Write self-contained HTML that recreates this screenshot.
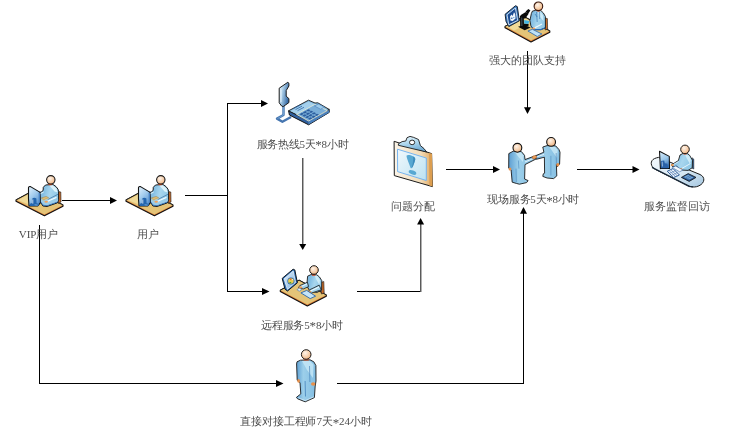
<!DOCTYPE html>
<html><head><meta charset="utf-8">
<style>
html,body{margin:0;padding:0;background:#fff;width:740px;height:427px;overflow:hidden}
svg{position:absolute;left:0;top:0}
text{font-family:"Liberation Serif",serif;font-size:11px;fill:#4a4a4a}
#labels{opacity:0.99;will-change:transform}
</style></head><body>
<svg width="740" height="427" viewBox="0 0 740 427">
<g id="iconA">
<defs><radialGradient id="gHead" cx="0.4" cy="0.35" r="0.75"><stop offset="0" stop-color="#fff4ea"/><stop offset="0.65" stop-color="#f4c8a0"/><stop offset="1" stop-color="#e09058"/></radialGradient>
<linearGradient id="gMon" x1="0" y1="0" x2="1" y2="1"><stop offset="0" stop-color="#d8ecfa"/><stop offset="1" stop-color="#6aa4d8"/></linearGradient>
<linearGradient id="gTorso" x1="0" y1="0" x2="1" y2="0.3"><stop offset="0" stop-color="#7ab4de"/><stop offset="0.3" stop-color="#86c0e4"/><stop offset="0.6" stop-color="#a8d6ee"/><stop offset="1" stop-color="#90c8e6"/></linearGradient></defs>
<!-- desk -->
<polygon points="16.0,200.0 34.5,190.0 63.0,205.0 63.0,206.3 44.4,215.7 16.0,201.3" fill="#e07a30" stroke="#111" stroke-width="1.15" stroke-linejoin="round"/>
<polygon points="16.0,200.0 34.5,190.0 63.0,205.0 44.4,214.4" fill="#e4c478"/>
<polyline points="16.0,200.0 34.5,190.0 63.0,205.0" fill="none" stroke="#1a1a1a" stroke-width="0.9" stroke-linejoin="round"/>
<polygon points="18,200.3 34.5,191.3 45,196.8 30,204.8" fill="#f0da98"/>
<!-- chair back -->
<polygon points="58,191.5 60.8,192 61,202 58.3,203.5" fill="#c86a28" stroke="#1a1a1a" stroke-width="0.6"/>
<!-- person torso -->
<path d="M45.5,185 L52.8,184.4 L56,186.6 L58,189.2 L58.6,191.5 L58.6,199.8 L57.3,202.9 L47,206.5 L42.9,206 L40.3,201.9 L39.6,192.6 L41.4,191.8 L43.1,190.6 L43.3,187.3 Z" fill="url(#gTorso)" stroke="#1a1a1a" stroke-width="1" stroke-linejoin="round"/>
<path d="M49.5,185.6 L53,185.4 L56.5,188.6 L57.6,192.5 L54.5,191.5 Z" fill="#e0f4fb" opacity="0.95"/>
<path d="M40.4,193.6 L43.6,192.2" stroke="#f2fafe" stroke-width="0.9"/>
<path d="M40.8,200.5 L43.5,204.4 L47,205.2 L57.6,201.4 L57.2,202.6 L47,206 L43,205.6 L40.6,202 Z" fill="#2a6ab4"/>
<path d="M41,199.5 L47,203.5 L58,199.6 L58,201.2 L47,205 L43,204.5 L40.8,201.5 Z" fill="#9ccce8"/>
<path d="M58.2,194.2 L47.6,199.6" stroke="#2a5a90" stroke-width="0.6"/>
<!-- arm highlight -->
<path d="M56.3,196.8 L47,201 L47.2,202 L56.6,198 Z" fill="#f2fafe"/>
<!-- keyboard -->
<polygon points="41.2,198 46.2,196.4 48.8,197.9 43.6,200" fill="#e0bc70" stroke="#8a6a30" stroke-width="0.4"/>
<path d="M41.6,199.2 L43.6,200.4 L48.6,198.4" stroke="#f0dca0" stroke-width="0.5" fill="none"/>
<!-- hand -->
<ellipse cx="46.2" cy="201.8" rx="1.8" ry="1" fill="#f0a060"/>
<!-- neck -->
<path d="M48.3,184 L52,184 L51.6,185.2 L48.8,185.2 Z" fill="#e04818"/>
<!-- head -->
<circle cx="50.8" cy="179.8" r="4.2" fill="url(#gHead)" stroke="#1a1a1a" stroke-width="1.1"/>
<!-- monitor -->
<defs><linearGradient id="gMonA" x1="0" y1="0" x2="0.6" y2="1"><stop offset="0" stop-color="#e4f2fc"/><stop offset="0.5" stop-color="#a4cdee"/><stop offset="1" stop-color="#5a94d0"/></linearGradient></defs>
<path d="M28.5,187.6 Q28.8,186.2 30.5,186.6 L39.8,192.1 L40.3,202.9 L37.7,206 L29,206 L28.5,198.8 Z" fill="url(#gMonA)" stroke="#111" stroke-width="1.1" stroke-linejoin="round"/>
<path d="M38.6,192.6 L40,193.2 L40.2,202.6 L38.8,202.2 Z" fill="#4a84c4"/>
<!-- stand -->
<path d="M32,199 Q34,196.6 36.4,198.6 L36.6,203.2 L39.4,204 L38,205.9 L30,205.9 L29.4,204 L32,203 Z" fill="#2466ae"/>
<path d="M32.8,199.4 L32.8,203.6" stroke="#e8f4ff" stroke-width="0.8"/>
<path d="M34.6,204.8 L37.6,205.1" stroke="#a8cdec" stroke-width="0.6"/>
</g>
<use href="#iconA" transform="translate(110,0)"/>
<g id="iconB">
<!-- desk -->
<polygon points="505.0,26.4 524.0,16.6 549.8,31.0 549.8,32.3 531.0,41.9 505.0,27.7" fill="#e07a30" stroke="#111" stroke-width="1.15" stroke-linejoin="round"/>
<polygon points="505.0,26.4 524.0,16.6 549.8,31.0 531.0,40.6" fill="#e4c478"/>
<polyline points="505.0,26.4 524.0,16.6 549.8,31.0" fill="none" stroke="#1a1a1a" stroke-width="0.9" stroke-linejoin="round"/>
<polygon points="507,26.4 524,17.6 532,22.1 514,30.6" fill="#f0da98"/>
<!-- chair back -->
<polygon points="545,18 547.4,18.6 547.6,29 545.2,30" fill="#c86a28" stroke="#1a1a1a" stroke-width="0.6"/>
<!-- torso -->
<path d="M532.5,11 L535.6,10.4 L540.7,10.4 L543.3,12.9 L545.4,16.5 L545.4,27.8 L541,29.6 L534,29.6 L530.9,25.8 L529.9,20.6 L531.4,13.4 Z" fill="url(#gTorso)" stroke="#1a1a1a" stroke-width="0.9" stroke-linejoin="round"/>
<path d="M538,12.2 L541,12.5 L543,15.5 L543.5,21 L540,17 Z" fill="#d4eef8" opacity="0.9"/>
<path d="M536.6,11.8 L537.2,22 M539.6,11.8 L539.7,19 M535,14 L537.2,17" stroke="#2a6aa8" stroke-width="0.6" fill="none"/>
<path d="M531,26 L534,29 L541,29 L545,27.2 L545,28.2 L541,30.2 L534,30.2 L530.6,26.8 Z" fill="#2a6ab4"/>
<path d="M541.8,23.4 L534,27.6 L534.2,28.8 L542.2,24.6 Z" fill="#f2fafe"/>
<ellipse cx="533.8" cy="28.6" rx="1.6" ry="1" fill="#f0a060"/>
<!-- neck -->
<path d="M536.4,10.4 L540.4,10.4 L539.8,11.6 L537,11.6 Z" fill="#e04818"/>
<!-- head -->
<circle cx="538.4" cy="6.3" r="4.3" fill="url(#gHead)" stroke="#3a1a10" stroke-width="1.1"/>
<!-- paper -->
<polygon points="527.9,31 532.4,29.3 541.9,34 537.3,36.5" fill="#bfe2f6" stroke="#2a64a8" stroke-width="0.8"/>
<!-- microscope -->
<polygon points="518,26.8 523.7,25 530.6,27.4 524.7,30.2" fill="#0a0a0a"/>
<polygon points="520,15.8 523.8,16.4 524,28 520.2,27.6" fill="#0a0a0a"/>
<path d="M521.8,17.5 L521.9,26" stroke="#5a7a90" stroke-width="0.7"/>
<polygon points="520.4,15.2 525.8,12 528.6,13.8 525.4,18.4 523,18.4" fill="#0a0a0a"/>
<polygon points="525.6,11.4 528.4,9 530.4,10.6 527.8,14.2" fill="#0a0a0a"/>
<polygon points="523.8,23.4 528.6,24 528.4,26.4 523.8,26" fill="#0a0a0a"/>
<polygon points="524.2,20 529.4,21 528.4,24 524.2,23.6" fill="#40b4e4"/>
<!-- monitor -->
<polygon points="505.1,14.3 515.5,5.7 517.3,6.6 519.4,20.8 508.8,26.6 506,21.3" fill="#3a78bc" stroke="#0c1420" stroke-width="0.9" stroke-linejoin="round"/>
<polygon points="507,14.8 515.4,8 517.6,20.4 508.8,24.8" fill="#1c4c92" stroke="#eef6fc" stroke-width="0.8"/>
<path d="M510,16.5 L511.5,14.5 L512.6,16 L514,12.2 L515.2,14 L515.6,18.6 L512.6,21 L510.4,20.6 Z" fill="#f0f6fc"/>
<circle cx="511.8" cy="18.2" r="0.8" fill="#2a5aa0"/>
<circle cx="513.8" cy="17.6" r="0.7" fill="#4a9ad8"/>
</g>
<g id="iconC">
<defs><linearGradient id="gHs" x1="0" y1="0" x2="1" y2="0.4"><stop offset="0" stop-color="#f0f8fe"/><stop offset="0.4" stop-color="#b0d2ea"/><stop offset="1" stop-color="#3a6ea8"/></linearGradient></defs>
<!-- cord -->
<path d="M283.5,105 L283.5,115 L277,118.6 L282.4,121.8 L291,117" fill="none" stroke="#4676b0" stroke-width="2.4" stroke-linejoin="round"/>
<path d="M283.5,106 L283.5,115 L277.5,118.6" fill="none" stroke="#8abce4" stroke-width="0.6"/>
<!-- handset -->
<path d="M279.2,88.2 L287.8,82.3 L288.9,83.2 L288.9,86 L286.2,90.6 L286.2,96.2 L288.9,98.6 L288.9,102.6 L283.2,106.6 L281.6,106 L279.2,102.8 Z" fill="url(#gHs)" stroke="#1a1a1a" stroke-width="1" stroke-linejoin="round"/>
<path d="M281,89.5 L281,102" stroke="#f4faff" stroke-width="0.8"/>
<!-- base sides -->
<polygon points="288.6,110.8 308.6,120.6 329.2,109.4 329.2,112.4 308.6,124.8 289.4,115" fill="#30609e" stroke="#111" stroke-width="1" stroke-linejoin="round"/>
<polygon points="308.6,120.6 329.2,109.4 329.2,112.4 308.6,124.4" fill="#4a80bc"/>
<!-- top face -->
<polygon points="288.6,110.8 308.5,100.2 315,103 317.8,102.8 329.2,109.4 308.6,120.6" fill="#7eb6dc" stroke="#1a1a1a" stroke-width="0.9" stroke-linejoin="round"/>
<polygon points="290.5,111 308.5,101.5 314.5,104.2 296.5,114" fill="#a4d0ec"/>
<!-- keypad region -->
<polygon points="296.5,114.4 314.8,104.4 327.4,110.6 308.6,121" fill="#7aaed8" stroke="#f0f2dc" stroke-width="0.8"/>
<g fill="#2c5e9e">
<polygon points="299.5,114.2 302,112.8 304,113.8 301.5,115.2"/>
<polygon points="302.8,112.4 305.3,111 307.3,112 304.8,113.4"/>
<polygon points="306.1,110.6 308.6,109.2 310.6,110.2 308.1,111.6"/>
<polygon points="302.3,115.7 304.8,114.3 306.8,115.3 304.3,116.7"/>
<polygon points="305.6,113.9 308.1,112.5 310.1,113.5 307.6,114.9"/>
<polygon points="308.9,112.1 311.4,110.7 313.4,111.7 310.9,113.1"/>
<polygon points="305.1,117.2 307.6,115.8 309.6,116.8 307.1,118.2"/>
<polygon points="308.4,115.4 310.9,114 312.9,115 310.4,116.4"/>
<polygon points="311.7,113.6 314.2,112.2 316.2,113.2 313.7,114.6"/>
<polygon points="307.9,118.7 310.4,117.3 312.4,118.3 309.9,119.7"/>
<polygon points="311.2,116.9 313.7,115.5 315.7,116.5 313.2,117.9"/>
<polygon points="314.5,115.1 317,113.7 319,114.7 316.5,116.1"/>
</g>
<!-- speaker lines -->
<g stroke="#3468a8" stroke-width="0.8">
<line x1="295.5" y1="109.6" x2="302" y2="106.2"/><line x1="297.5" y1="110.7" x2="304" y2="107.3"/><line x1="293.5" y1="108.5" x2="300" y2="105.1"/>
</g>
<!-- display -->
<polygon points="314.5,106 318.5,104 324.5,107.2 320.5,109.2" fill="#9ccaea" stroke="#4a7eb8" stroke-width="0.6"/>
</g>
<g id="iconD">
<defs>
<linearGradient id="gBoard" x1="0" y1="0" x2="1" y2="0"><stop offset="0" stop-color="#fbf4e8"/><stop offset="0.7" stop-color="#f2dcb8"/><stop offset="1" stop-color="#e0a860"/></linearGradient>
<linearGradient id="gPaper" x1="0" y1="0" x2="1" y2="1"><stop offset="0" stop-color="#f0f8fc"/><stop offset="1" stop-color="#bce2f2"/></linearGradient>
<linearGradient id="gClip" x1="0.2" y1="0" x2="0.5" y2="1"><stop offset="0" stop-color="#e4f4fc"/><stop offset="0.5" stop-color="#a8d4ec"/><stop offset="1" stop-color="#6aa6d0"/></linearGradient>
</defs>
<!-- board -->
<polygon points="394.1,141.3 431.6,153.6 432.4,186.6 394.3,175.6" fill="url(#gBoard)" stroke="#1a1a1a" stroke-width="1"/>
<polygon points="429,153 432,153.8 432.6,186.5 429.4,185.5" fill="#dc9e50"/>
<!-- paper -->
<polygon points="397.5,149.2 426.3,158 426.3,180.5 397.6,171.6" fill="url(#gPaper)" stroke="#6aaef0" stroke-width="0.9"/>
<!-- exclamation -->
<path d="M406.6,155.6 C407.4,154.6 410.5,155 413,156.2 C415.2,157.2 415.6,158.6 415.2,160 C414.4,162.8 413.2,166 412.4,167.6 C411.8,168.6 410.8,168.4 410.4,167.4 C409.2,164.2 407.6,160.2 406.8,157.6 C406.6,156.8 406.5,156.1 406.6,155.6 Z" fill="#58a8d2"/>
<path d="M413,156.4 C415,157.3 415.5,158.6 415.1,160 C414.4,162.6 413.3,165.6 412.5,167.4 L412,166.5 C412.8,163.5 413.6,159.5 413,156.4 Z" fill="#3e8cbc"/>
<ellipse cx="412.5" cy="172.4" rx="4" ry="2" transform="rotate(22 412.5 172.4)" fill="#58a8d2"/>
<!-- clip -->
<path d="M398.4,143.8 L402.1,141.6 L405.8,141 L407,137.7 L410,136.4 L413.7,137.4 L418.5,139.5 L420.4,145.6 L424,148.6 L426.6,152 L398.4,145.3 Z" fill="url(#gClip)" stroke="#1a1a1a" stroke-width="0.9" stroke-linejoin="round"/>
<ellipse cx="412.1" cy="142.4" rx="2.6" ry="2.3" fill="#fff" stroke="#1a1a1a" stroke-width="0.9"/>
</g>
<g id="iconE">
<defs>
<linearGradient id="gBody" x1="0" y1="0" x2="1" y2="0"><stop offset="0" stop-color="#5c9ed2"/><stop offset="0.35" stop-color="#9ccfea"/><stop offset="1" stop-color="#82bde2"/></linearGradient>
</defs>
<!-- right person -->
<path d="M542.8,147 L547.1,145.6 L555.7,145.9 L558.9,149.4 L560,152.2 L559.6,164 L557.5,166.6 L556.4,164.5 L556.8,175.9 L553.6,178.6 L547.1,178 L542.8,176.4 L543.3,173.8 L544.6,173.2 L544.4,157.2 L536.3,159.3 L535,156 L543.9,152.2 Z" fill="url(#gBody)" stroke="#1a1a1a" stroke-width="0.9" stroke-linejoin="round"/>
<path d="M543.9,154.4 L536,157.2" stroke="#eaf6fc" stroke-width="1"/>
<path d="M549,146.5 L555,146.8 L557.8,150 L557,158 L552.5,151.5 Z" fill="#c8e8f6" opacity="0.85"/>
<path d="M550.9,155.8 L550.9,175.5" stroke="#4a86bc" stroke-width="0.6"/>
<path d="M556.2,153 L556.4,164" stroke="#3a6ea8" stroke-width="0.5"/>
<ellipse cx="557.8" cy="164.8" rx="1.5" ry="1.7" fill="#e8904a"/>
<circle cx="551.1" cy="141.9" r="4.4" fill="url(#gHead)" stroke="#111" stroke-width="1.1"/>
<!-- left person -->
<path d="M508.8,153.6 L513.2,151.2 L521.4,151.6 L524.5,155.3 L525,159.6 L533.8,156.3 L536,159 L525,164.6 L524.6,179 L528.1,180.6 L526.6,182.6 L519.4,184.2 L516.3,183.4 L512.2,182.2 L511.1,170 L508.7,168.2 Z" fill="url(#gBody)" stroke="#1a1a1a" stroke-width="0.9" stroke-linejoin="round"/>
<path d="M525,162 L535,157.8" stroke="#eaf6fc" stroke-width="1"/>
<path d="M515,152.2 L521,152.4 L523.5,155.5 L523,162 L518.5,157 Z" fill="#c8e8f6" opacity="0.85"/>
<path d="M518.4,160.5 L518.9,168.6 M516,168.6 L516.3,182.2" stroke="#4a86bc" stroke-width="0.6"/>
<ellipse cx="510" cy="168.9" rx="1.4" ry="1.5" fill="#e8904a"/>
<circle cx="517.4" cy="147.8" r="4.4" fill="url(#gHead)" stroke="#111" stroke-width="1.1"/>
<!-- hands -->
<ellipse cx="534.4" cy="157.2" rx="2.4" ry="1.6" transform="rotate(-20 534.4 157.2)" fill="#ec9a52" stroke="#8a4a20" stroke-width="0.4"/>
</g>
<g id="iconF">
<defs>
<linearGradient id="gSlab" x1="0" y1="0" x2="1" y2="1"><stop offset="0" stop-color="#f4f9fd"/><stop offset="0.6" stop-color="#d4e6f2"/><stop offset="1" stop-color="#a4c6e0"/></linearGradient>
</defs>
<!-- slab -->
<path d="M658.5,157.4 L700,174.5 C705.5,177 705,183 699,185.8 C696,187.3 692.5,187.5 689,186 L655.5,169.5 C650,166.5 650,160.5 654.5,158.6 C655.8,158 657.2,157.6 658.5,157.4 Z" fill="url(#gSlab)" stroke="#1a1a1a" stroke-width="1"/>
<path d="M652,167.4 L689,186.3 L693,186.9" fill="none" stroke="#1a2a3a" stroke-width="1.2"/>
<!-- chair -->
<polygon points="692.3,157.8 693.8,159.2 693.8,169 692.3,168.4" fill="#2c5c98" stroke="#1a1a1a" stroke-width="0.5"/>
<!-- torso -->
<path d="M680,155 L683,153.4 L687.5,153.6 L689.5,155.2 L692.5,160.2 L692.2,167.8 L688,170.4 L681,170 L679.5,168.6 L676.5,166.2 L673,166.8 L671.2,165 L678.4,160.6 Z" fill="url(#gTorso)" stroke="#1a1a1a" stroke-width="0.9" stroke-linejoin="round"/>
<path d="M685,154.5 L689,155.5 L691,159.5 L690,164 L686.5,158 Z" fill="#d4eef8" opacity="0.9"/>
<path d="M678.5,161.6 L672.4,165" stroke="#eaf6fc" stroke-width="0.8"/>
<path d="M690.5,163.5 L681.5,168.6" stroke="#eaf6fc" stroke-width="0.9"/>
<ellipse cx="672.4" cy="165" rx="1.6" ry="1.1" fill="#ec9a52"/>
<ellipse cx="680.8" cy="169.2" rx="1.6" ry="1.1" fill="#ec9a52"/>
<path d="M683,153.6 L687.2,153.6 L686.4,154.6 L683.6,154.6 Z" fill="#e04818"/>
<circle cx="685" cy="149.4" r="4.3" fill="url(#gHead)" stroke="#1a1a1a" stroke-width="1"/>
<!-- mouse pad -->
<polygon points="672.4,167.6 675.6,166 683,170 679.6,171.8" fill="#f4f8fc" stroke="#3a6aa8" stroke-width="0.6"/>
<!-- keyboard -->
<polygon points="667.3,171.2 673,168.6 679.4,175 673.4,177.6" fill="#f0f6fc" stroke="#1f4f8f" stroke-width="0.9"/>
<path d="M669.4,171 L675.6,176.6 M671.2,170.2 L677.4,175.8" stroke="#3a6aa8" stroke-width="0.6"/>
<path d="M669.8,173.2 L675.6,170.6 M671.8,175.2 L677.4,172.6" stroke="#3a6aa8" stroke-width="0.5"/>
<!-- phone -->
<polygon points="681.4,177.4 688.2,173.6 696,177.4 689.2,181.4" fill="#2a5a98" stroke="#111" stroke-width="0.8"/>
<polygon points="683.8,177 688.2,174.8 693.4,177.4 689,179.6" fill="#7aaad6"/>
<path d="M685.6,177.8 L690,175.6 M687.4,178.7 L691.8,176.5" stroke="#2a5a98" stroke-width="0.6"/>
<!-- monitor -->
<defs><linearGradient id="gMonF" x1="0" y1="0" x2="0.3" y2="1"><stop offset="0" stop-color="#e0f0fb"/><stop offset="0.55" stop-color="#9cc8ea"/><stop offset="1" stop-color="#3a78bc"/></linearGradient></defs>
<polygon points="659.5,151.2 669.3,156.4 669.5,168.4 660.4,168.6" fill="url(#gMonF)" stroke="#111" stroke-width="1.05" stroke-linejoin="round"/>
<path d="M660.9,161 L664.2,160.4 L664.8,163.2 L667.4,163.8 L668.2,168.2 L661,168.2 Z" fill="#2a62a8"/>
<path d="M662.2,161.6 L662.4,166.5" stroke="#c4e0f6" stroke-width="0.7"/>
</g>
<g id="iconG">
<defs>
<linearGradient id="gScr" x1="0" y1="0" x2="1" y2="1"><stop offset="0" stop-color="#e6f2fc"/><stop offset="1" stop-color="#7aaedc"/></linearGradient>
</defs>
<!-- desk -->
<polygon points="280.3,290.2 299.1,280.2 326.3,295.0 326.3,296.3 307.3,305.9 280.3,291.5" fill="#e07a30" stroke="#111" stroke-width="1.15" stroke-linejoin="round"/>
<polygon points="280.3,290.2 299.1,280.2 326.3,295.0 307.3,304.6" fill="#e4c478"/>
<polyline points="280.3,290.2 299.1,280.2 326.3,295.0" fill="none" stroke="#1a1a1a" stroke-width="0.9" stroke-linejoin="round"/>
<!-- chair -->
<polygon points="321,282.5 323.8,281.5 324.2,293 321.4,294" fill="#c86a28" stroke="#1a1a1a" stroke-width="0.6"/>
<!-- torso -->
<path d="M307.6,276.2 L311,274.6 L316.8,274.8 L319.5,277 L321.8,280.7 L321.6,290.2 L317,292.4 L310,291.5 L307.5,287 L307.1,282 Z" fill="url(#gTorso)" stroke="#1a1a1a" stroke-width="0.9" stroke-linejoin="round"/>
<path d="M314.5,275.5 L317.5,276 L320,280 L319.5,285 L316.5,280 Z" fill="#d4eef8" opacity="0.9"/>
<path d="M307.4,282.2 L299.8,285.6 L298.6,287.6 L303.2,289 L308.6,286.6 Z" fill="#9cd0ec" stroke="#1a1a1a" stroke-width="0.8" stroke-linejoin="round"/>
<path d="M307,284 L300.5,286.8" stroke="#f2fafe" stroke-width="0.9"/>
<path d="M319.2,285.2 L309.6,289.8 L308.4,291.8 L311.6,293 L321.2,289.8 Z" fill="#a4d6ee" stroke="#1a1a1a" stroke-width="0.8" stroke-linejoin="round"/>
<path d="M319,287 L310.5,291" stroke="#f2fafe" stroke-width="1"/>
<ellipse cx="300.6" cy="287.4" rx="1.8" ry="1.1" fill="#ec9a52"/>
<ellipse cx="309.6" cy="291.8" rx="1.8" ry="1.1" fill="#ec9a52"/>
<path d="M311.5,274.6 L316,274.6 L315.2,275.8 L312.3,275.8 Z" fill="#e04818"/>
<circle cx="314" cy="270" r="4.3" fill="url(#gHead)" stroke="#1a1a1a" stroke-width="1"/>
<!-- keyboard -->
<polygon points="300.9,292.9 306.7,290.4 315.6,296.2 310.2,298.6" fill="#c4e4f8" stroke="#2a64a8" stroke-width="0.9"/>
<!-- mouse -->
<polygon points="296.9,289.6 299.5,288.2 301.8,289.6 299.2,291.2" fill="#e8f4fc" stroke="#3a70b0" stroke-width="0.6"/>
<!-- monitor -->
<polygon points="282.2,278.4 293.1,269.2 294.8,269.9 297.4,282.8 287.5,291 285,289.2" fill="#2c6cb2" stroke="#101820" stroke-width="1" stroke-linejoin="round"/>
<polygon points="284,278.8 293.2,271 295.6,282.4 287.4,289.4" fill="url(#gScr)" stroke="#f4faff" stroke-width="0.7"/>
<circle cx="290.9" cy="281" r="3.5" fill="#2a64a8"/>
<circle cx="290.9" cy="281" r="2.8" fill="#e8cc50"/>
<path d="M289,282 L290.5,283.6 L291.5,282 Z" fill="#38a040"/>
<path d="M289.5,278.8 L291.5,278.6 L291,280.2 Z" fill="#d84828"/>
<circle cx="292.6" cy="279.6" r="0.7" fill="#f4f0d0"/>
</g>
<g id="iconH">
<path d="M297,361.8 L300.5,360.2 L310,359.8 L313.8,361.8 L315.9,365.5 L316,381 L315.2,386 L314.4,397.6 L305.2,401.8 L297.6,398.8 L296.4,397.4 L300.8,393.9 L300,382.6 L297.2,380.2 L296.6,364 Z" fill="url(#gBody)" stroke="#1a1a1a" stroke-width="0.9" stroke-linejoin="round"/>
<path d="M302,361 L310,361 L313.5,364.5 L313,378 L307,370 Z" fill="#c4e6f6" opacity="0.85"/>
<path d="M305.1,381 L305.5,396.5" stroke="#3a78b4" stroke-width="0.7"/>
<path d="M309.5,366 L309.9,382" stroke="#3a78b4" stroke-width="0.6"/>
<path d="M298,397.6 L305.2,400.6 L313.8,396.8" stroke="#e6f4fc" stroke-width="0.6" fill="none"/>
<ellipse cx="313.2" cy="384" rx="2.2" ry="1.7" fill="#e8904a"/>
<ellipse cx="298.6" cy="380.9" rx="1.4" ry="1.8" fill="#e8904a"/>
<path d="M303,359.4 L309.5,359.4 L308.5,360.6 L304,360.6 Z" fill="#e04818"/>
<circle cx="306.2" cy="354.5" r="4.8" fill="url(#gHead)" stroke="#1a1a1a" stroke-width="1"/>
</g>

<g id="lines" fill="#000" shape-rendering="crispEdges">
<rect x="62" y="200" width="49" height="1"/>
<rect x="185" y="195" width="43" height="1"/>
<rect x="227" y="103" width="1" height="189"/>
<rect x="227" y="103" width="35" height="1"/>
<rect x="227" y="291" width="36" height="1"/>
<rect x="302" y="158" width="1" height="87" fill="#5a5a5a"/>
<rect x="303" y="158" width="1" height="87" fill="#b0b0b0"/>
<rect x="357" y="291" width="64" height="1"/>
<rect x="420" y="224" width="1" height="68" fill="#5a5a5a"/>
<rect x="421" y="224" width="1" height="68" fill="#b0b0b0"/>
<rect x="446" y="169" width="48" height="1"/>
<rect x="527" y="51" width="1" height="57"/>
<rect x="577" y="169" width="56" height="1"/>
<rect x="39" y="225" width="1" height="159"/>
<rect x="39" y="383" width="238" height="1"/>
<rect x="337" y="383" width="187" height="1"/>
<rect x="523" y="213" width="1" height="171"/>
</g>
<g id="arrows" fill="#000">
<polygon points="117,200.5 110,197 110,204"/>
<polygon points="268,103.5 261,100 261,107"/>
<polygon points="269.5,291.5 262,288 262,295"/>
<polygon points="302.7,250 299.2,244 306.2,244"/>
<polygon points="420.6,218 417.1,224.5 424.1,224.5"/>
<polygon points="500,169.5 493,166 493,173"/>
<polygon points="527.5,114 524,107.3 531,107.3"/>
<polygon points="639.5,169.5 632.5,166 632.5,173"/>
<polygon points="283.5,383.5 276,380 276,387"/>
<polygon points="523.5,207 520,213.8 527,213.8"/>
</g>
<g id="labels" text-anchor="middle">
<text x="527.1" y="64">强大的团队支持</text>
<text x="302.4" y="147.5" letter-spacing="-0.28">服务热线5天<tspan dy="1.6" font-size="13">*</tspan><tspan dy="-1.6">8小时</tspan></text>
<text x="412.9" y="209.5">问题分配</text>
<text x="533.3" y="203.4" letter-spacing="-0.28">现场服务5天<tspan dy="1.6" font-size="13">*</tspan><tspan dy="-1.6">8小时</tspan></text>
<text x="676.7" y="209.5">服务监督回访</text>
<text x="38.6" y="237.5">VIP用户</text>
<text x="148" y="237.5">用户</text>
<text x="301.9" y="328.5" letter-spacing="-0.18">远程服务5<tspan dy="1.6" font-size="13">*</tspan><tspan dy="-1.6">8小时</tspan></text>
<text x="305.9" y="425" letter-spacing="-0.12">直接对接工程师7天<tspan dy="1.6" font-size="13">*</tspan><tspan dy="-1.6">24小时</tspan></text>
</g>
</svg>
</body></html>
